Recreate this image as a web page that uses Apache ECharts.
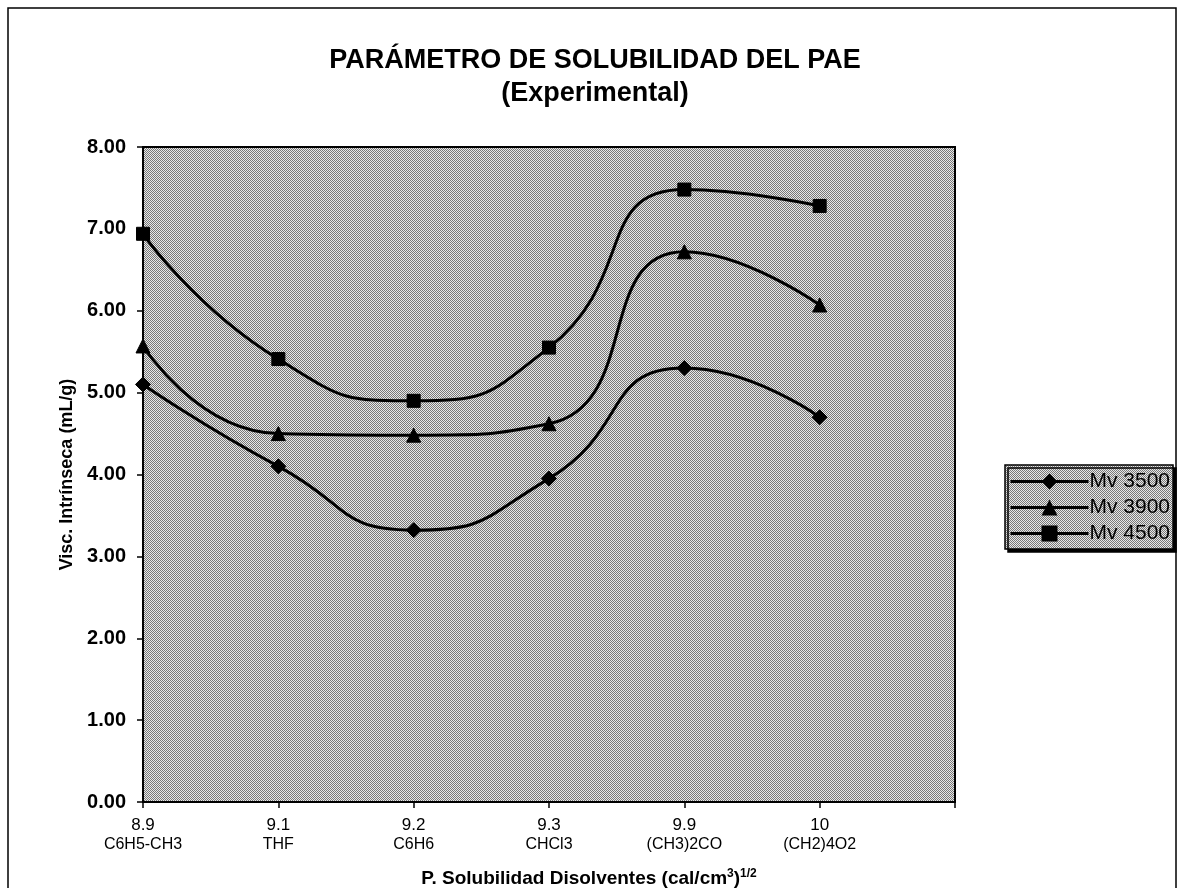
<!DOCTYPE html>
<html>
<head>
<meta charset="utf-8">
<script src="https://cdn.jsdelivr.net/npm/echarts@6/dist/echarts.min.js"></script>
<style>
  html, body { margin: 0; padding: 0; background: #fff; }
  #chart { width: 1182px; height: 888px; }
</style>
</head>
<body>
<div id="chart"></div>
<script>
// Solubility parameter of each solvent and its name
const solParam = ['8.9', '9.1', '9.2', '9.3', '9.9', '10', ''];
const solvents = ['C6H5-CH3', 'THF', 'C6H6', 'CHCl3', '(CH3)2CO', '(CH2)4O2', ''];

// Intrinsic viscosity (mL/g) per molecular weight
const mv3500 = [5.10, 4.10, 3.32, 3.95, 5.30, 4.70];
const mv3900 = [5.57, 4.50, 4.48, 4.62, 6.72, 6.07];
const mv4500 = [6.94, 5.41, 4.90, 5.55, 7.48, 7.28];

const yTicks = [0, 1, 2, 3, 4, 5, 6, 7, 8];

// Fine grey halftone used as fill for the plot area and legend
function halftone() {
  const c = document.createElement('canvas');
  c.width = 2; c.height = 2;
  const g = c.getContext('2d');
  g.fillStyle = '#e8e8e8';
  g.fillRect(0, 0, 2, 2);
  g.fillStyle = '#787878';
  g.fillRect(0, 0, 1, 1);
  g.fillRect(1, 1, 1, 1);
  return c;
}
const pattern = { image: halftone(), repeat: 'repeat' };

const chart = echarts.init(document.getElementById('chart'));
const font = 'Arial, "Liberation Sans", sans-serif';

function series(name, data, symbol, size) {
  return {
    name, type: 'line', data, smooth: 0.55,
    symbol, symbolSize: size,
    lineStyle: { color: '#000', width: 3 },
    itemStyle: { color: '#000', borderColor: '#000' },
    emphasis: { disabled: true }
  };
}

chart.setOption({
  animation: false,
  backgroundColor: '#fff',
  textStyle: { fontFamily: font, color: '#000' },
  title: {
    text: 'PARÁMETRO DE SOLUBILIDAD DEL PAE',
    subtext: '(Experimental)',
    left: 590, top: 42, textAlign: 'center', itemGap: 6,
    textStyle: { fontSize: 27, fontWeight: 'bold', color: '#000', fontFamily: font },
    subtextStyle: { fontSize: 27, fontWeight: 'bold', color: '#000', fontFamily: font }
  },
  graphic: [
    {
      type: 'rect', silent: true, z: -10,
      shape: { x: 8, y: 8, width: 1168, height: 900 },
      style: { fill: 'none', stroke: '#000', lineWidth: 1.5 }
    }
  ],
  legend: {
    orient: 'vertical',
    left: 1005, top: 465,
    itemWidth: 78, itemHeight: 20, itemGap: 5,
    padding: [6, 3, 5, 4],
    backgroundColor: pattern,
    borderColor: '#000', borderWidth: 1.5,
    shadowColor: '#000', shadowOffsetX: 3, shadowOffsetY: 3,
    itemStyle: { borderWidth: 0 },
    lineStyle: { width: 3 },
    textStyle: { fontSize: 21, lineHeight: 20, color: '#000', fontFamily: font, padding: [0, 0, 0, -4] },
    data: ['Mv 3500', 'Mv 3900', 'Mv 4500']
  },
  grid: {
    left: 143, right: 227, top: 147, bottom: 86,
    outerBoundsMode: 'none',
    show: true, backgroundColor: pattern,
    borderColor: '#000', borderWidth: 2
  },
  xAxis: {
    type: 'category',
    data: solParam,
    boundaryGap: false,
    name: '{t|P. Solubilidad Disolventes (cal/cm}{s|3}{t|)}{s|1/2}',
    nameLocation: 'middle', nameGap: 66,
    nameTextStyle: {
      padding: [0, 0, 0, 80],
      rich: {
        t: { fontSize: 19, fontWeight: 'bold', fontFamily: font, color: '#000' },
        s: { fontSize: 12, fontWeight: 'bold', fontFamily: font, color: '#000', verticalAlign: 'top', padding: [0, 0, 10, 0] }
      }
    },
    axisLine: { lineStyle: { color: '#000', width: 2 } },
    axisTick: { show: true, length: 6, lineStyle: { color: '#000', width: 1.5 } },
    axisLabel: {
      interval: 0, margin: 14,
      formatter: (v, i) => '{a|' + v + '}\n{b|' + solvents[i] + '}',
      rich: {
        a: { fontSize: 17, fontFamily: font, color: '#000', lineHeight: 19 },
        b: { fontSize: 16, fontFamily: font, color: '#000', lineHeight: 19 }
      }
    },
    splitLine: { show: false }
  },
  yAxis: {
    type: 'value', min: 0, max: 8, interval: 1,
    name: 'Visc. Intrínseca (mL/g)',
    nameLocation: 'middle', nameGap: 62,
    nameTextStyle: { fontSize: 18, fontWeight: 'bold', fontFamily: font, color: '#000' },
    axisLine: { show: true, lineStyle: { color: '#000', width: 2 } },
    axisTick: { show: true, length: 6, lineStyle: { color: '#000', width: 1.5 } },
    axisLabel: {
      fontSize: 20, fontWeight: 'bold', fontFamily: font, color: '#000', margin: 17,
      customValues: yTicks,
      formatter: v => v.toFixed(2)
    },
    splitLine: { show: false }
  },
  series: [
    series('Mv 3500', mv3500, 'diamond', 15),
    series('Mv 3900', mv3900, 'triangle', 14),
    series('Mv 4500', mv4500, 'rect', 13)
  ]
});
</script>
</body>
</html>
